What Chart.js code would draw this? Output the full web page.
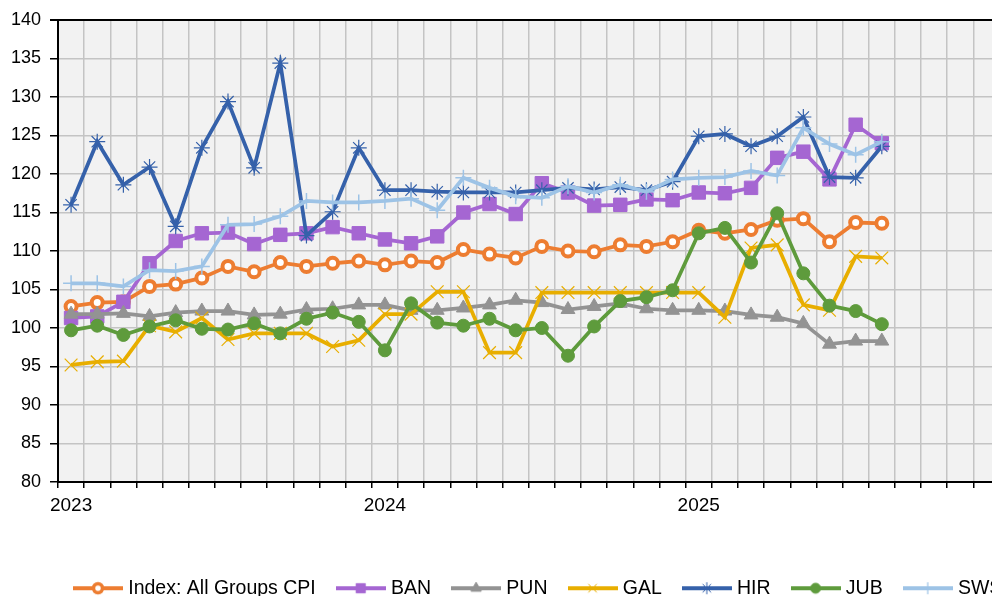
<!DOCTYPE html>
<html lang="en">
<head>
  <meta charset="UTF-8">
  <title>Regional CPI index</title>
  <script src="https://cdn.jsdelivr.net/npm/chart.js"></script>
  <style>
    body {
      margin: 0;
      background: #ffffff;
    }

    .wrap {
      width: 992px;
      height: 596px;
      overflow: hidden;
    }
  </style>
</head>
<body>
  <div class="wrap">
    <canvas id="cpiChart" width="1010" height="608"></canvas>
  </div>

  <script>
    // months on the axis (Jan 2023 - Dec 2025), data runs to Aug 2025
    const months = [
      '2023-01','2023-02','2023-03','2023-04','2023-05','2023-06','2023-07','2023-08','2023-09','2023-10','2023-11','2023-12',
      '2024-01','2024-02','2024-03','2024-04','2024-05','2024-06','2024-07','2024-08','2024-09','2024-10','2024-11','2024-12',
      '2025-01','2025-02','2025-03','2025-04','2025-05','2025-06','2025-07','2025-08','2025-09','2025-10','2025-11','2025-12'
    ];

    const seriesNames = ['Index: All Groups CPI', 'BAN', 'PUN', 'GAL', 'HIR', 'JUB', 'SWS'];

    const cpi = [102.8, 103.3, 103.4, 105.4, 105.7, 106.5, 108.0, 107.3, 108.5, 108.0, 108.4, 108.7, 108.2, 108.7, 108.5, 110.2,
                 109.6, 109.1, 110.6, 110.0, 109.9, 110.8, 110.6, 111.2, 112.7, 112.3, 112.8, 114.0, 114.2, 111.2, 113.7, 113.6];
    const ban = [101.3, 101.5, 103.4, 108.4, 111.3, 112.3, 112.4, 110.9, 112.1, 112.3, 113.1, 112.3, 111.5, 111.0, 111.9, 115.0,
                 116.1, 114.8, 118.8, 117.6, 115.9, 116.0, 116.7, 116.6, 117.6, 117.5, 118.2, 122.1, 122.9, 119.3, 126.4, 124.0];
    const pun = [101.8, 101.8, 101.9, 101.5, 102.0, 102.2, 102.2, 101.7, 101.8, 102.4, 102.5, 103.0, 103.0, 102.3, 102.3, 102.6,
                 103.0, 103.6, 103.3, 102.4, 102.8, 103.2, 102.5, 102.3, 102.3, 102.2, 101.7, 101.4, 100.6, 97.9, 98.3, 98.3];
    const gal = [95.2, 95.6, 95.7, 100.3, 99.5, 101.3, 98.5, 99.3, 99.3, 99.3, 97.6, 98.4, 101.8, 101.8, 104.7, 104.7,
                 96.8, 96.8, 104.6, 104.6, 104.6, 104.6, 104.6, 104.6, 104.6, 101.4, 110.4, 110.8, 103.0, 102.3, 109.3, 109.1];
    const hir = [116.0, 124.2, 118.6, 120.9, 113.2, 123.4, 129.4, 120.8, 134.4, 112.0, 115.1, 123.4, 117.9, 117.9, 117.7, 117.6,
                 117.6, 117.6, 117.9, 118.2, 118.0, 118.3, 117.9, 119.0, 124.9, 125.2, 123.6, 124.9, 127.4, 119.6, 119.5, 123.6];
    const jub = [99.7, 100.3, 99.1, 100.2, 101.0, 99.9, 99.8, 100.6, 99.3, 101.2, 102.0, 100.8, 97.1, 103.2, 100.7, 100.3,
                 101.2, 99.7, 100.0, 96.4, 100.2, 103.5, 104.0, 104.9, 112.3, 113.0, 108.5, 114.9, 107.1, 102.9, 102.2, 100.5];
    const sws = [105.8, 105.8, 105.4, 107.5, 107.4, 108.0, 113.4, 113.5, 114.5, 116.5, 116.3, 116.3, 116.5, 116.8, 115.3, 119.5,
                 118.2, 117.1, 116.9, 118.4, 117.6, 118.6, 117.7, 119.3, 119.5, 119.6, 120.4, 119.8, 126.0, 123.9, 122.5, 124.2];

    const FONT = "'Liberation Sans', Arial, sans-serif";

    // line + marker look for each series (excel style)
    const looks = [
      { color: '#ED7D31', fill: '#ffffff', style: 'circle',   r: 5.5, bw: 4,   lr: 4.5, lbw: 3.5 },
      { color: '#A566D2', fill: '#A566D2', style: 'rect',     r: 9.5, bw: 1,   lr: 6.5, lbw: 1 },
      { color: '#939393', fill: '#939393', style: 'triangle', r: 8,   bw: 1,   lr: 6,   lbw: 1 },
      { color: '#E8AE00', fill: '#E8AE00', style: 'crossRot', r: 9,   bw: 1.2, lr: 6,   lbw: 1 },
      { color: '#3561AA', fill: '#3561AA', style: 'star',     r: 8,   bw: 1.2, lr: 6,   lbw: 1 },
      { color: '#5E9B3C', fill: '#5E9B3C', style: 'circle',   r: 6.5, bw: 1,   lr: 5,   lbw: 1 },
      { color: '#9DC3E6', fill: '#9DC3E6', style: 'cross',    r: 8,   bw: 1.5, lr: 6,   lbw: 1.2 }
    ];
    const values = [cpi, ban, pun, gal, hir, jub, sws];

    // small canvases used as legend symbols (line with the marker in the middle)
    function legendIcon(lk) {
      const c = document.createElement('canvas');
      c.width = 50;
      c.height = 20;
      const g = c.getContext('2d');
      g.strokeStyle = lk.color;
      g.lineWidth = 4;
      g.beginPath();
      g.moveTo(0, 10);
      g.lineTo(50, 10);
      g.stroke();
      g.fillStyle = lk.fill;
      g.lineWidth = lk.lbw;
      Chart.helpers.drawPoint(g, { pointStyle: lk.style, radius: lk.lr, borderWidth: lk.lbw, rotation: 0 }, 25, 10);
      return c;
    }
    const icons = looks.map(legendIcon);

    const datasets = seriesNames.map((name, i) => ({
      label: name,
      data: values[i],
      borderColor: looks[i].color,
      backgroundColor: looks[i].color,
      borderWidth: 3.75,
      tension: 0,
      pointStyle: looks[i].style,
      pointRadius: looks[i].r,
      pointBorderWidth: looks[i].bw,
      pointBackgroundColor: looks[i].fill,
      pointBorderColor: looks[i].color,
      order: seriesNames.length - i
    }));

    const plotFrame = {
      id: 'plotFrame',
      afterLayout(chart) {
        // push the legend row right so it starts where the original does
        const lg = chart.legend;
        lg.left += 53;
        lg.right += 53;
      },
      beforeDraw(chart) {
        const a = chart.chartArea;
        const c = chart.ctx;
        c.save();
        c.fillStyle = '#f2f2f2';
        c.fillRect(a.left, a.top, a.right - a.left, a.bottom - a.top);
        c.restore();
      },
      afterDraw(chart) {
        const a = chart.chartArea;
        const c = chart.ctx;
        c.save();
        c.strokeStyle = '#000';
        c.lineWidth = 2;
        c.beginPath();
        c.moveTo(a.left - 8, a.top);
        c.lineTo(a.right, a.top);
        c.stroke();
        c.restore();
      }
    };

    const ctx = document.getElementById('cpiChart').getContext('2d');
    const chart = new Chart(ctx, {
      type: 'line',
      data: { labels: months, datasets: datasets },
      plugins: [plotFrame],
      options: {
        responsive: false,
        animation: false,
        devicePixelRatio: 1,
        layout: { padding: { top: 20, right: 10, left: 0, bottom: 0 } },
        plugins: {
          tooltip: { enabled: false },
          legend: {
            position: 'bottom',
            align: 'start',
            labels: {
              usePointStyle: true,
              pointStyleWidth: 41,
              padding: 24.5,
              color: '#000',
              font: { family: FONT, size: 19.5 },
              generateLabels(ch) {
                const items = Chart.defaults.plugins.legend.labels.generateLabels(ch);
                items.sort((a, b) => a.datasetIndex - b.datasetIndex);
                items.forEach(it => { it.pointStyle = icons[it.datasetIndex]; });
                return items;
              }
            }
          }
        },
        scales: {
          x: {
            offset: true,
            afterFit(scale) { scale.height = 72; },
            grid: { offset: true, color: '#c4c4c4', lineWidth: 1.5, tickColor: '#000', tickLength: 6, tickWidth: 1.5 },
            border: { color: '#000', width: 2 },
            ticks: {
              autoSkip: false,
              maxRotation: 0,
              padding: 6,
              color: '#000',
              font: { family: FONT, size: 19 },
              callback(val) {
                const lab = this.getLabelForValue(val);
                return lab.endsWith('-01') ? lab.slice(0, 4) : '';
              }
            }
          },
          y: {
            min: 80,
            max: 140,
            afterFit(scale) { scale.width = 58; },
            grid: { color: '#c4c4c4', lineWidth: 1.5, tickColor: '#000', tickLength: 8, tickWidth: 1.5 },
            border: { color: '#000', width: 2 },
            ticks: {
              stepSize: 5,
              padding: 9,
              color: '#000',
              font: { family: FONT, size: 18 }
            }
          }
        }
      }
    });
  </script>
</body>
</html>
